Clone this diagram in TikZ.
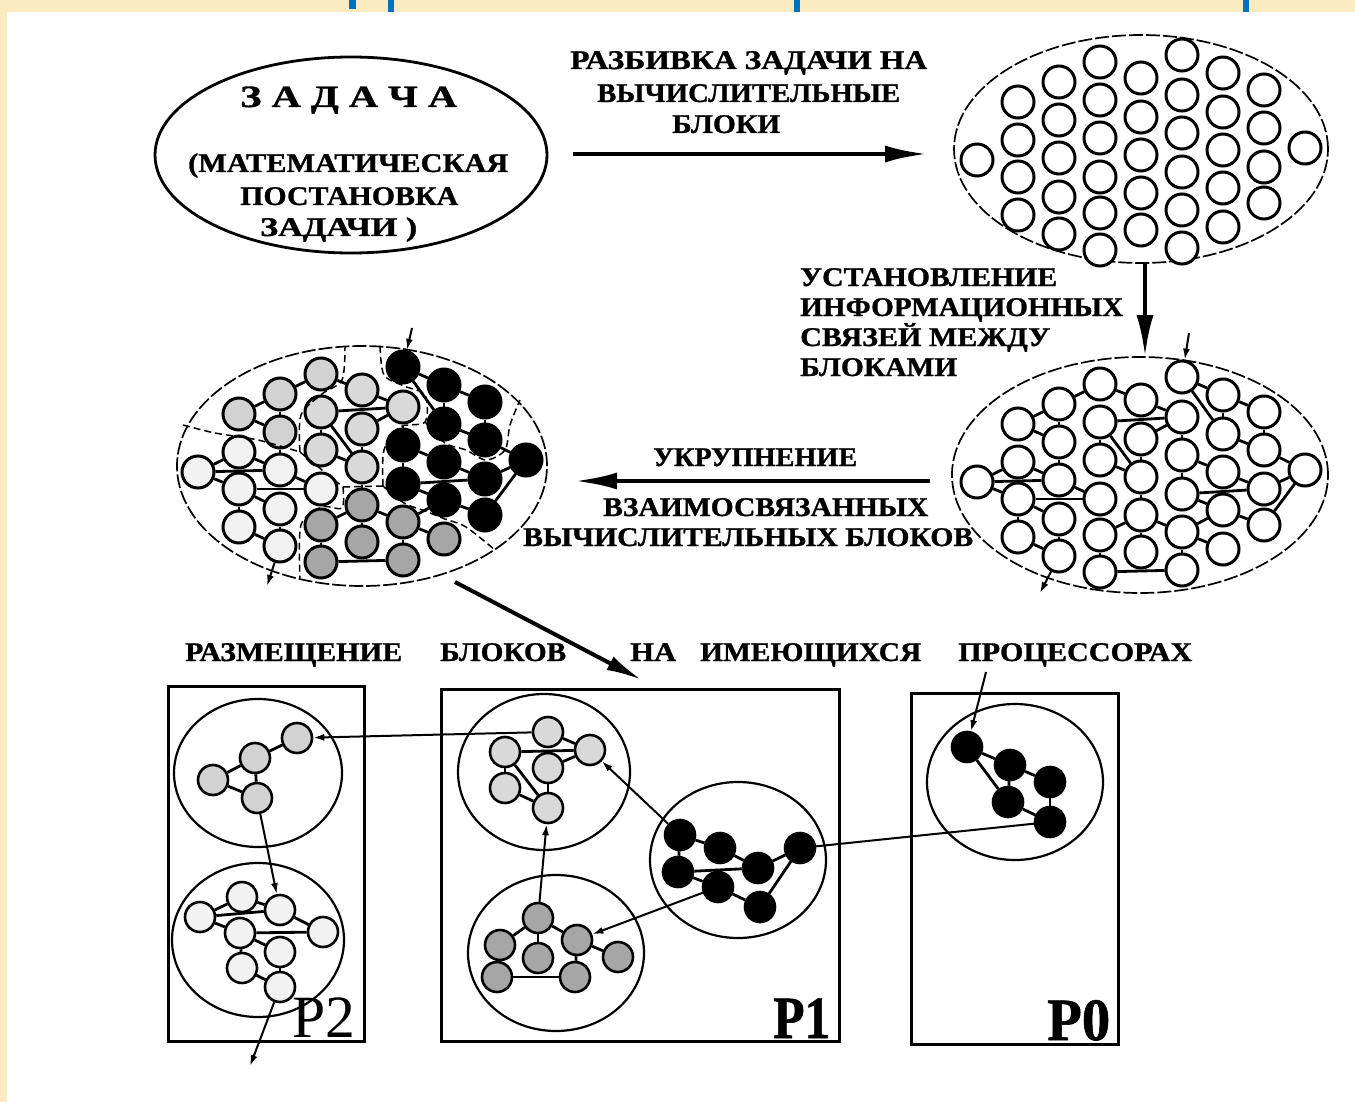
\documentclass[tikz,border=0pt]{standalone}
\usepackage{fontspec}
\setmainfont{Liberation Serif}
\newfontface\heavy[FakeBold=1.0]{Liberation Serif Bold}
\usetikzlibrary{arrows.meta,shapes.geometric}
\definecolor{bgyel}{RGB}{250,236,192}
\definecolor{ttlblue}{RGB}{0,112,192}
\newsavebox\fitbox
\newcommand\fitx[2]{\sbox\fitbox{#2}\pgfmathsetmacro\fitratio{#1/\the\wd\fitbox}\scalebox{\fitratio}[1]{\usebox\fitbox}}
\def\gridlist{c1r1/-164/10/B, c2r1/-123/-48/A, c2r2/-123/-10/B, c2r3/-123/27/B, c2r4/-123/65/B,
 c3r1/-82/-68/A, c3r2/-82/-30/A, c3r3/-82/8/B, c3r4/-82/47/B, c3r5/-82/84/B,
 c4r1/-41/-88/A, c4r2/-41/-50/C, c4r3/-41/-12/C, c4r4/-41/27/B, c4r5/-41/63/D, c4r6/-41/100/D,
 c5r1/0/-72/C, c5r2/0/-33/C, c5r3/0/5/C, c5r4/0/43/D, c5r5/0/80/D,
 c6r1/41/-95/F, c6r2/41/-55/C, c6r3/41/-17/E, c6r4/41/22/E, c6r5/41/60/D, c6r6/41/98/D,
 c7r1/82/-77/F, c7r2/82/-38/F, c7r3/82/0/E, c7r4/82/38/E, c7r5/82/77/D,
 c8r1/123/-60/F, c8r2/123/-22/F, c8r3/123/17/E, c8r4/123/53/E, c9r1/164/-2/E}
\def\edgelist{c4r1/c3r1, c3r1/c2r1, c2r1/c3r2, c3r1/c3r2, c3r2/c3r3, c1r1/c2r2, c1r1/c3r3, c1r1/c2r3,
 c2r2/c3r3, c3r3/c4r4, c2r3/c4r4, c2r3/c3r4, c2r3/c2r4, c3r4/c3r5, c2r4/c3r5, c5r1/c4r1, c5r1/c6r2,
 c4r2/c6r2, c5r2/c6r2, c4r2/c4r3, c4r2/c5r3, c4r3/c5r3, c5r2/c5r3, c6r3/c6r2, c6r3/c7r3, c6r3/c6r4,
 c6r4/c8r3, c6r4/c7r4, c7r3/c8r3, c8r3/c9r1, c9r1/c8r4, c7r4/c8r4, c7r4/c6r5, c5r4/c4r5, c5r4/c6r5,
 c5r4/c5r5, c4r5/c4r6, c4r6/c6r6, c6r5/c6r6, c6r5/c7r5, c5r4/c5r3, c8r2/c9r1, c6r1/c7r1, c6r1/c7r2,
 c7r1/c7r2, c7r1/c8r1, c8r1/c8r2, c7r2/c8r2}
\begin{document}
\begin{tikzpicture}[x=1pt,y=-1pt,
  lbl/.style={inner sep=0pt, anchor=base west, font=\fontsize{27}{30}\selectfont\heavy},
  big/.style={line width=4.5pt, -{Latex[length=42pt,width=17pt]}},
  sm/.style={line width=2pt, -{Latex[length=11pt,width=7pt]}},
  gn/.style={circle, draw, line width=3pt, minimum size=32pt, inner sep=0pt, fill=white},
  gW/.style={gn},
  gA/.style={gn, fill=gray!35}, gB/.style={gn, fill=gray!10}, gC/.style={gn, fill=gray!30},
  gD/.style={gn, fill=gray!70}, gE/.style={gn, fill=black}, gF/.style={gn, fill=black},
  bn/.style={circle, draw, line width=2.6pt, minimum size=30pt, inner sep=0pt},
  bA/.style={bn, fill=gray!35}, bB/.style={bn, fill=gray!10}, bC/.style={bn, fill=gray!30},
  bD/.style={bn, fill=gray!70}, bE/.style={bn, fill=black},
  edge/.style={line width=2.8pt},
  dsh/.style={ellipse, draw, inner sep=0pt, line width=1.7pt, dash pattern=on 14pt off 3pt},
  bnd/.style={line width=1.5pt, dash pattern=on 7pt off 4pt},
  box/.style={draw, line width=3.2pt, inner sep=0pt, anchor=north west},
  cl/.style={ellipse, draw, line width=2.2pt, inner sep=0pt}]
\useasboundingbox (0,0) rectangle (1355,1102);
\fill[bgyel] (0,0) rectangle (1355,1102);
\fill[white] (7,12) rectangle (1355,1102);
\fill[ttlblue] (349,0) rectangle (356,9);
\fill[ttlblue] (388,0) rectangle (394,12);
\fill[ttlblue] (794,0) rectangle (800,12);
\fill[ttlblue] (1243,0) rectangle (1249,12);

% ---- top-left ellipse
\node[ellipse, draw, line width=2.8pt, minimum width=392pt, minimum height=196pt, inner sep=0pt] (task) at (351,155) {};
\node[lbl] (t1) at (240,107) {\fontsize{31}{33}\selectfont\fitx{217}{З А Д А Ч А}};
\node[lbl] (t2) at (188,172) {\fitx{320}{(МАТЕМАТИЧЕСКАЯ}};
\node[lbl] (t3) at (240,205) {\fitx{218}{ПОСТАНОВКА}};
\node[lbl] (t4) at (260,236) {\fitx{157}{ЗАДАЧИ )}};

% ---- top arrow
\node[lbl] (a1) at (570,69) {\fitx{357}{РАЗБИВКА ЗАДАЧИ НА}};
\node[lbl] (a2) at (597,102) {\fitx{303}{ВЫЧИСЛИТЕЛЬНЫЕ}};
\node[lbl] (a3) at (672,133) {\fitx{108}{БЛОКИ}};
\coordinate (ar1s) at (573,154);
\coordinate (ar1e) at (927,154);
\draw[big] (ar1s) -- (ar1e);

% ---- top-right ellipse with blocks
\node[dsh, minimum width=374pt, minimum height=228pt] (blocks) at (1141,149) {};
\foreach \n/\x/\y/\g in \gridlist {\node[gW] (T-\n) at ({1141+\x},{150+\y}) {};}

% ---- vertical arrow
\coordinate (ar2s) at (1145,262);
\coordinate (ar2e) at (1145,357);
\draw[big] (ar2s) -- (ar2e);
\node[lbl] (b1) at (800,286) {\fitx{257}{УСТАНОВЛЕНИЕ}};
\node[lbl] (b2) at (800,316) {\fitx{323}{ИНФОРМАЦИОННЫХ}};
\node[lbl] (b3) at (800,346) {\fitx{250}{СВЯЗЕЙ МЕЖДУ}};
\node[lbl] (b4) at (800,376) {\fitx{157}{БЛОКАМИ}};

% ---- middle-right ellipse with links
\node[dsh, minimum width=376pt, minimum height=236pt] (linked) at (1140,475) {};
\foreach \n/\x/\y/\g in \gridlist {\node[gW] (R-\n) at ({1141+\x},{472+\y}) {};}
\foreach \a/\b in \edgelist {\draw[edge] (R-\a) -- (R-\b);}
\coordinate (rin) at (1189,333);
\coordinate (rout) at (1040,593);
\draw[sm] (rin) -- (R-c6r1);
\draw[sm] (R-c3r5) -- (rout);

% ---- middle arrow
\coordinate (ar3s) at (930,481);
\coordinate (ar3e) at (575,481);
\draw[big] (ar3s) -- (ar3e);
\node[lbl] (m1) at (653,466) {\fitx{204}{УКРУПНЕНИЕ}};
\node[lbl] (m2) at (603,516) {\fitx{325}{ВЗАИМОСВЯЗАННЫХ}};
\node[lbl] (m3) at (523,546) {\fitx{450}{ВЫЧИСЛИТЕЛЬНЫХ БЛОКОВ}};

% ---- middle-left ellipse (grouped)
\node[dsh, minimum width=370pt, minimum height=240pt] (grouped) at (362,466) {};
\foreach \n/\x/\y/\g in \gridlist {\node[g\g] (L-\n) at ({362+\x},{462+\y}) {};}
\foreach \a/\b in \edgelist {\draw[edge] (L-\a) -- (L-\b);}
\draw[bnd] plot[smooth, tension=0.5] coordinates {(183,425) (215,433) (258,440) (300,452)};
\draw[bnd] plot[smooth, tension=0.5] coordinates {(300,452) (301,415) (322,394) (342,380) (345,346)};
\draw[bnd] plot[smooth, tension=0.5] coordinates {(300,452) (322,470) (343,487)};
\draw[bnd] plot[smooth, tension=0.5] coordinates {(343,487) (342,508) (322,507) (301,525) (300,578)};
\draw[bnd] plot[smooth, tension=0.5] coordinates {(343,487) (383,486)};
\draw[bnd] plot[smooth, tension=0.5] coordinates {(383,486) (384,450) (400,427) (425,422) (425,395) (404,386) (384,375) (380,346)};
\draw[bnd] plot[smooth, tension=0.5] coordinates {(425,422) (445,443) (466,450) (486,460) (505,450) (510,425) (520,400)};
\draw[bnd] plot[smooth, tension=0.5] coordinates {(383,486) (404,503) (425,511) (445,519) (466,527) (495,550)};
\coordinate (lin) at (412,328);
\coordinate (lout) at (267,586);
\draw[sm] (lin) -- (L-c6r1);
\draw[sm] (L-c3r5) -- (lout);

% ---- diagonal arrow to placement
\coordinate (ar4s) at (455,582);
\coordinate (ar4e) at (642,680);
\draw[line width=4pt, -{Latex[length=36pt,width=15pt]}] (ar4s) -- (ar4e);

% ---- bottom title
\node[lbl] (p1) at (185,661) {\fitx{217}{РАЗМЕЩЕНИЕ}};
\node[lbl] (p2) at (440,661) {\fitx{126}{БЛОКОВ}};
\node[lbl] (p3) at (630,661) {\fitx{46}{НА}};
\node[lbl] (p4) at (700,661) {\fitx{221}{ИМЕЮЩИХСЯ}};
\node[lbl] (p5) at (958,661) {\fitx{234}{ПРОЦЕССОРАХ}};

% ---- processor boxes
\node[box, minimum width=196pt, minimum height=355pt] (P2box) at (167,685) {};
\node[box, minimum width=398pt, minimum height=352pt] (P1box) at (440,688) {};
\node[box, minimum width=207pt, minimum height=351pt] (P0box) at (910,692) {};

\node[cl, minimum width=168pt, minimum height=148pt] (e2a) at (258,773) {};
\node[cl, minimum width=172pt, minimum height=154pt] (e2b) at (258,940) {};
\node[cl, minimum width=172pt, minimum height=156pt] (e1a) at (544,772) {};
\node[cl, minimum width=176pt, minimum height=156pt] (e1b) at (738,860) {};
\node[cl, minimum width=176pt, minimum height=156pt] (e1c) at (556,953) {};
\node[cl, minimum width=176pt, minimum height=156pt] (e0a) at (1015,782) {};

% P2 top cluster
\node[bA] (pa1) at (297,738) {};
\node[bA] (pa2) at (255,758) {};
\node[bA] (pa3) at (213,780) {};
\node[bA] (pa4) at (257,798) {};
\foreach \a/\b in {pa1/pa2, pa2/pa3, pa3/pa4, pa2/pa4} {\draw[edge] (\a) -- (\b);}
% P2 bottom cluster
\node[bB] (pb1) at (200,917) {};
\node[bB] (pb2) at (242,897) {};
\node[bB] (pb3) at (280,910) {};
\node[bB] (pb4) at (323,932) {};
\node[bB] (pb5) at (240,933) {};
\node[bB] (pb6) at (280,952) {};
\node[bB] (pb7) at (242,968) {};
\node[bB] (pb8) at (280,987) {};
\foreach \a/\b in {pb1/pb2, pb1/pb3, pb1/pb5, pb2/pb3, pb3/pb4, pb5/pb4, pb5/pb6, pb5/pb7, pb6/pb8, pb7/pb8} {\draw[edge] (\a) -- (\b);}
% P1 light cluster
\node[bC] (pc1) at (548,732) {};
\node[bC] (pc2) at (590,750) {};
\node[bC] (pc3) at (505,752) {};
\node[bC] (pc4) at (548,768) {};
\node[bC] (pc5) at (505,788) {};
\node[bC] (pc6) at (548,808) {};
\foreach \a/\b in {pc1/pc2, pc3/pc2, pc4/pc2, pc3/pc5, pc3/pc6, pc5/pc6, pc4/pc6} {\draw[edge] (\a) -- (\b);}
% P1 dark cluster
\node[bD] (pd1) at (538,918) {};
\node[bD] (pd2) at (500,945) {};
\node[bD] (pd3) at (577,940) {};
\node[bD] (pd4) at (538,958) {};
\node[bD] (pd5) at (497,977) {};
\node[bD] (pd6) at (575,977) {};
\node[bD] (pd7) at (618,957) {};
\foreach \a/\b in {pd1/pd2, pd1/pd3, pd1/pd4, pd2/pd5, pd5/pd6, pd3/pd6, pd3/pd7} {\draw[edge] (\a) -- (\b);}
% P1 black cluster
\node[bE] (pe1) at (680,835) {};
\node[bE] (pe2) at (678,872) {};
\node[bE] (pe3) at (720,848) {};
\node[bE] (pe4) at (718,887) {};
\node[bE] (pe5) at (758,868) {};
\node[bE] (pe6) at (760,907) {};
\node[bE] (pe7) at (800,848) {};
\foreach \a/\b in {pe1/pe3, pe1/pe2, pe2/pe5, pe2/pe4, pe3/pe5, pe5/pe7, pe7/pe6, pe4/pe6} {\draw[edge] (\a) -- (\b);}
% P0 cluster
\node[bE] (pf1) at (967,747) {};
\node[bE] (pf2) at (1010,765) {};
\node[bE] (pf3) at (1050,782) {};
\node[bE] (pf4) at (1008,802) {};
\node[bE] (pf5) at (1050,822) {};
\foreach \a/\b in {pf1/pf2, pf1/pf4, pf2/pf4, pf2/pf3, pf3/pf5, pf4/pf5} {\draw[edge] (\a) -- (\b);}

% inter-cluster connectors
\draw[sm] (pc1) -- (pa1);
\draw[sm] (pa4) -- (pb3);
\coordinate (bout) at (250,1066);
\draw[sm] (pb8) -- (bout);
\draw[sm] (pe1) -- (pc2);
\draw[sm] (pe4) -- (pd3);
\draw[sm] (pd1) -- (pc6);
\draw[line width=2pt] (pf5) -- (pe7);
\coordinate (bin) at (986,672);
\draw[sm] (bin) -- (pf1);

% processor labels
\node[inner sep=0pt, anchor=base west, font=\fontsize{60}{62}\selectfont] (lP2) at (292,1037) {\fitx{63}{P2}};
\node[inner sep=0pt, anchor=base west, font=\fontsize{60}{62}\selectfont\heavy] (lP1) at (773,1038) {\fitx{57}{P1}};
\node[inner sep=0pt, anchor=base west, font=\fontsize{60}{62}\selectfont\heavy] (lP0) at (1047,1040) {\fitx{63}{P0}};
\end{tikzpicture}
\end{document}
